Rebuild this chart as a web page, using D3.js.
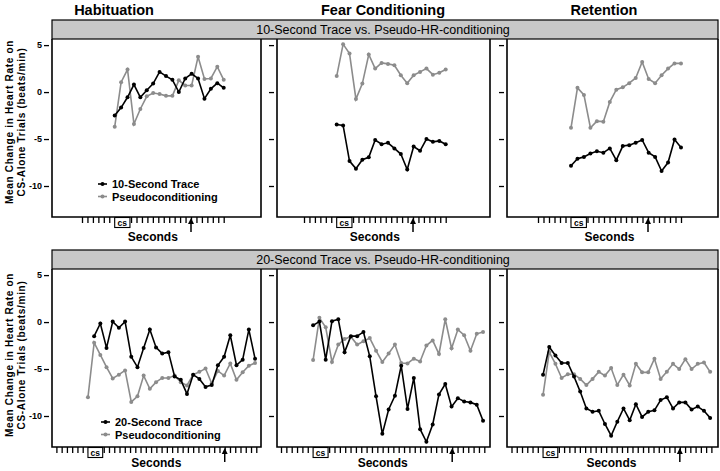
<!DOCTYPE html>
<html><head><meta charset="utf-8">
<script src="https://cdn.jsdelivr.net/npm/d3@7"></script>
<style>
body{margin:0;background:#fff}
svg{display:block;font-family:"Liberation Sans",Arial,sans-serif}
</style>
</head><body>
<svg id="chart" width="720" height="471"></svg>
<script>
// ---------------- data ----------------
const phases = ["Habituation", "Fear Conditioning", "Retention"];
const rowTitles = ["10-Second Trace vs. Pseudo-HR-conditioning", "20-Second Trace vs. Pseudo-HR-conditioning"];
const legendTop = ["10-Second Trace", "Pseudoconditioning"];
const legendBottom = ["20-Second Trace", "Pseudoconditioning"];
const yTickValues = [5, 0, -5, -10];
const yTickLabels = ["5", "0", "-5", "-10"];
const xAxisLabel = "Seconds";
const csLabel = "cs";
const yLabelLines = ["Mean Change in Heart Rate on", "CS-Alone Trials (beats/min)"];

// 10-Second Trace vs. Pseudo (top row)
const trace10Hab  = [-2.5, -1.65, -0.55, 0.8, -0.55, 0.2, 0.9, 2.15, 1.7, 1.3, 0.0, 1.45, 1.95, 1.45, -0.7, 0.35, 0.95, 0.45];
const pseudo10Hab = [-3.7, 1.05, 2.4, -3.4, -1.8, -0.45, -0.1, -0.2, -0.4, -0.4, 1.25, 0.7, 0.7, 3.75, 1.4, 1.45, 2.7, 1.3];
const trace10Fear  = [-3.45, -3.55, -7.35, -8.15, -7.2, -6.95, -5.1, -5.55, -5.4, -6.0, -6.6, -8.25, -5.8, -6.25, -5.0, -5.3, -5.2, -5.55];
const pseudo10Fear = [1.7, 5.1, 4.1, -0.75, 0.9, 4.0, 2.5, 3.1, 3.0, 2.85, 1.8, 0.95, 1.8, 2.15, 2.5, 1.85, 2.05, 2.4];
const trace10Ret  = [-7.85, -7.1, -6.9, -6.55, -6.3, -6.45, -6.0, -7.25, -5.75, -5.65, -5.4, -5.1, -6.45, -6.9, -8.4, -7.5, -5.05, -5.9];
const pseudo10Ret = [-3.8, 0.45, -0.3, -3.8, -3.1, -3.15, -1.05, 0.25, 0.5, 0.95, 1.5, 3.2, 1.4, 0.95, 1.8, 2.5, 3.05, 3.05];

// 20-Second Trace vs. Pseudo (bottom row)
const trace20Hab  = [null, -1.5, -0.15, -2.75, 0.05, -0.6, 0.05, -3.7, -4.8, -2.75, -0.8, -2.7, -3.35, -3.2, -5.8, -6.15, -7.65, -5.6, -6.05, -6.9, -6.7, -4.6, -3.7, -1.4, -4.6, -4.0, -0.8, -3.9];
const pseudo20Hab = [-8.0, -2.2, -3.5, -4.8, -6.0, -5.6, -5.15, -8.5, -7.9, -5.7, -7.1, -6.4, -5.95, -5.95, -5.7, -6.4, -6.75, -5.6, -5.3, -4.95, -6.55, -5.2, -5.7, -4.4, -6.15, -5.35, -4.65, -4.35];
const trace20Fear  = [-0.35, 0.05, -4.0, 0.1, 0.3, -3.2, -1.5, -1.5, -1.05, -3.65, -7.9, -11.9, -9.3, -7.85, -4.65, -9.25, -5.95, -11.4, -12.75, -10.9, -7.7, -6.6, -9.0, -8.1, -8.45, -8.55, -8.8, -10.5];
const pseudo20Fear = [-4.05, 0.45, -0.55, -4.25, -2.4, -1.8, -1.55, -2.4, -2.05, -1.7, -3.05, -4.25, -3.35, -2.4, -4.35, -4.4, -3.9, -4.2, -2.5, -1.95, -3.4, 0.3, -2.8, -0.8, -1.4, -3.05, -1.25, -1.05];
const trace20Ret  = [-5.6, -2.65, -3.55, -4.35, -4.35, -5.8, -7.4, -9.2, -9.55, -9.45, -10.85, -12.1, -10.6, -9.2, -10.45, -8.75, -10.1, -9.55, -9.4, -8.3, -8.0, -9.2, -8.55, -8.55, -9.3, -9.0, -9.45, -10.2];
const pseudo20Ret = [-7.75, -3.2, -4.45, -5.95, -5.55, -5.55, -6.05, -6.7, -6.05, -5.3, -5.7, -4.9, -6.7, -5.6, -6.75, -4.45, -5.35, -5.35, -3.9, -6.05, -5.3, -4.45, -5.0, -3.95, -5.0, -4.45, -4.3, -5.3];

const rowsData = [
  [[trace10Hab, pseudo10Hab], [trace10Fear, pseudo10Fear], [trace10Ret, pseudo10Ret]],
  [[trace20Hab, pseudo20Hab], [trace20Fear, pseudo20Fear], [trace20Ret, pseudo20Ret]]
];
const legends = [legendTop, legendBottom];

// ---------------- layout ----------------
const BLACK = "#000", GRAY = "#8c8c8c";
const frameX = [[52, 261], [277, 490], [507, 718]];
const rowLayout = [
  {bandTop: 20, top: 39, bottom: 217, nTicks: 27, arrowAt: 20, secY: 241, tick0: [82, 304, 538], sp: [5.45, 5.45, 5.5]},
  {bandTop: 250, top: 269, bottom: 447, nTicks: 39, arrowAt: 32, secY: 467, tick0: [56.4, 281, 511.5], sp: [5.26, 5.35, 5.26]}
];
const csStart = 6, csEnd = 8.8, sampleStep = 20 / 17;
const yDomain = [-13.3, 5.65];

const svg = d3.select("#chart");

// column titles
const titleX = [114, 383, 604];
phases.forEach((p, i) => {
  svg.append("text").attr("x", titleX[i]).attr("y", 15).attr("text-anchor", "middle")
    .attr("font-size", 14.5).attr("font-weight", "bold").text(p);
});

rowLayout.forEach((L, r) => {
  // band
  svg.append("rect").attr("x", frameX[0][0]).attr("y", L.bandTop)
    .attr("width", frameX[2][1] - frameX[0][0]).attr("height", L.top - L.bandTop)
    .attr("fill", "#c8c8c8").attr("stroke", "#000").attr("stroke-width", 1.2);
  svg.append("text").attr("x", 383).attr("y", L.top - 5).attr("text-anchor", "middle")
    .attr("font-size", 12.5).text(rowTitles[r]);

  // y label
  const yc = r === 0 ? 122 : 355;
  yLabelLines.forEach((t, k) => {
    svg.append("text").attr("transform", `translate(${13 + k * 12},${yc}) rotate(-90)`)
      .attr("text-anchor", "middle").attr("font-size", 10).attr("font-weight", "bold")
      .attr("letter-spacing", 0.7).text(t);
  });

  const y = d3.scaleLinear().domain(yDomain).range([L.bottom, L.top]);

  frameX.forEach((fx, c) => {
    const g = svg.append("g");
    const x = d3.scaleLinear().domain([0, L.nTicks - 1])
      .range([L.tick0[c], L.tick0[c] + (L.nTicks - 1) * L.sp[c]]);

    // frame (left, bottom, right)
    g.append("path").attr("d", `M${fx[0]},${L.top}V${L.bottom}H${fx[1]}V${L.top}`)
      .attr("fill", "none").attr("stroke", "#000").attr("stroke-width", 1.6);

    // y axis ticks
    const yAxis = d3.axisLeft(y).tickValues(yTickValues).tickSize(5).tickPadding(2)
      .tickFormat((d, i) => c === 0 ? yTickLabels[i] : "");
    const ya = g.append("g").attr("transform", `translate(${fx[0] - 3},0)`).call(yAxis);
    ya.select(".domain").remove();
    ya.selectAll("line").attr("stroke-width", 1.3);
    ya.selectAll("text").attr("font-size", 9).attr("font-weight", "bold")
      .attr("font-family", "Liberation Sans, Arial, sans-serif");

    // x axis ticks
    const xAxis = d3.axisBottom(x).tickValues(d3.range(L.nTicks)).tickSize(6).tickFormat("");
    const xa = g.append("g").attr("transform", `translate(0,${L.bottom})`).call(xAxis);
    xa.select(".domain").remove();
    xa.selectAll("line").attr("stroke-width", 1.3);

    // CS box
    const bx0 = x(csStart), bx1 = x(csEnd);
    g.append("rect").attr("x", bx0).attr("y", L.bottom + 0.5).attr("width", bx1 - bx0).attr("height", 10)
      .attr("fill", "#fff").attr("stroke", "#000").attr("stroke-width", 1.1);
    g.append("text").attr("x", (bx0 + bx1) / 2).attr("y", L.bottom + 8.5).attr("text-anchor", "middle")
      .attr("font-size", 8.5).attr("font-weight", "bold").text(csLabel);

    // arrow
    const ax = x(L.arrowAt);
    g.append("line").attr("x1", ax).attr("x2", ax).attr("y1", L.bottom + 5).attr("y2", L.bottom + 15)
      .attr("stroke", "#000").attr("stroke-width", 1.5);
    g.append("path").attr("d", `M${ax},${L.bottom + 1}L${ax - 3},${L.bottom + 7}L${ax + 3},${L.bottom + 7}Z`)
      .attr("fill", "#000");

    // Seconds label
    g.append("text").attr("x", (x.range()[0] + x.range()[1]) / 2).attr("y", L.secY)
      .attr("text-anchor", "middle").attr("font-size", 12).attr("font-weight", "bold").text(xAxisLabel);

    // series
    const [trace, pseudo] = rowsData[r][c];
    const sx = i => x(csStart + i * sampleStep);
    const line = d3.line().defined(d => d != null).x((d, i) => sx(i)).y(d => y(d));
    [[pseudo, GRAY], [trace, BLACK]].forEach(([vals, col]) => {
      g.append("path").datum(vals).attr("d", line).attr("fill", "none")
        .attr("stroke", col).attr("stroke-width", 1.6);
      g.selectAll(null).data(vals.map((v, i) => ({v, i})).filter(d => d.v != null)).enter()
        .append("circle").attr("cx", d => sx(d.i)).attr("cy", d => y(d.v)).attr("r", 2).attr("fill", col);
    });

    // legend
    if (c === 0) {
      const lx = r === 0 ? 98 : 101, ly = r === 0 ? 184 : 422, tx = r === 0 ? 112 : 115;
      legends[r].forEach((t, k) => {
        const col = k === 0 ? BLACK : GRAY;
        const yy = ly + k * 12.5;
        g.append("line").attr("x1", lx).attr("x2", lx + 9).attr("y1", yy).attr("y2", yy)
          .attr("stroke", col).attr("stroke-width", 1.6);
        g.append("circle").attr("cx", lx + 4.5).attr("cy", yy).attr("r", 2).attr("fill", col);
        g.append("text").attr("x", tx).attr("y", yy + 4).attr("font-size", 11)
          .attr("font-weight", "bold").text(t);
      });
    }
  });
});
</script>
</body></html>
